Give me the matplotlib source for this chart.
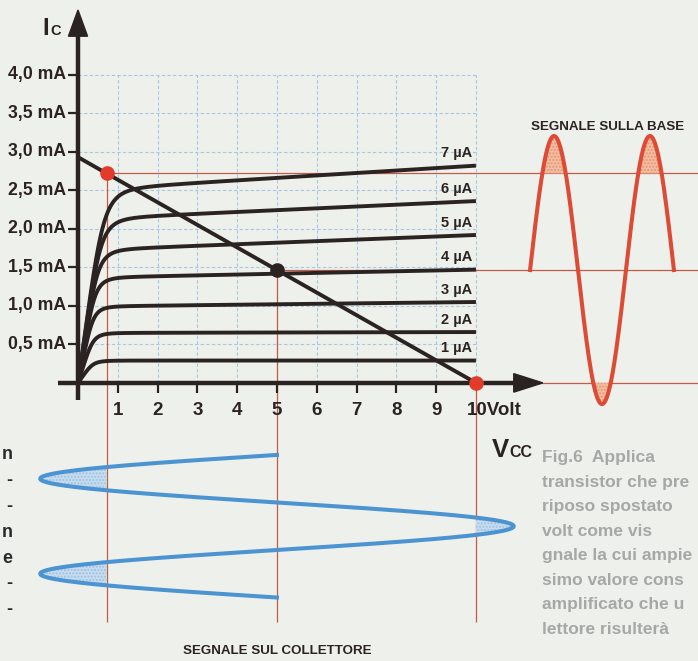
import numpy as np
import matplotlib.pyplot as plt
from matplotlib.patches import Polygon

# ---------------- values ----------------
VOLT_TICKS = [1, 2, 3, 4, 5, 6, 7, 8, 9]
VOLT_GRID = [1, 2, 3, 4, 5, 6, 7, 8, 9, 10]
IC_TICKS = [0.5, 1.0, 1.5, 2.0, 2.5, 3.0, 3.5, 4.0]
IC_TICK_LABELS = ['0,5 mA', '1,0 mA', '1,5 mA', '2,0 mA',
                  '2,5 mA', '3,0 mA', '3,5 mA', '4,0 mA']

# collector characteristics, one curve per base current
IB_LABELS = ['1 µA', '2 µA', '3 µA', '4 µA', '5 µA', '6 µA', '7 µA']
IC_AT_1V5 = [0.29, 0.65, 1.00, 1.38, 1.75, 2.16, 2.55]   # mA just after the knee
IC_AT_10V = [0.29, 0.66, 1.05, 1.47, 1.92, 2.36, 2.82]   # mA at 10 V
KNEE_V = [0.40, 0.40, 0.40, 0.45, 0.52, 0.60, 0.68]

# load line and working points
VCC = 10.0
IC_SHORT = 2.93
Q_V = 5.0
SAT_V = 0.72
Q_I = IC_SHORT * (1 - Q_V / VCC)
SAT_I = IC_SHORT * (1 - SAT_V / VCC)

# base signal (right) and collector signal (below)
BASE_X0, BASE_PERIOD, BASE_AMP, BASE_CYCLES = 11.36, 2.41, 1.74, 1.5
COLL_Y0, COLL_PERIOD, COLL_AMP, COLL_CYCLES = -0.935, 1.234, 5.95, 1.5

# page text around the figure, as much of it as the scan shows
PAGE_LINES = ['Fig.6  Applica',
              'transistor che pre',
              'riposo spostato',
              'volt come vis',
              'gnale la cui ampie',
              'simo valore cons',
              'amplificato che u',
              'lettore risulterà']
LEFT_EDGE = ['n', '-', '-', 'n', 'e', '-', '-']

# ---------------- style ----------------
PAPER = '#eef0ec'
INK = '#2b2322'
GRID = '#a8c8df'
THIN_RED = '#c35a45'
RED_DOT = '#e23b2b'
RED_WAVE = '#dd4a35'
PEACH, PEACH_DOT = '#f3bd9f', '#e39777'
BLUE, BLUE_FILL, BLUE_DOT = '#4b93d1', '#c7ddef', '#9dc1e1'
BOLD = ['Liberation Sans', 'DejaVu Sans']
plt.rcParams['hatch.linewidth'] = 1.0

fig = plt.figure(figsize=(6.98, 6.61), dpi=100, facecolor=PAPER)
ax = fig.add_axes([0, 0, 1, 1])
ax.set_xlim(-1.96, 15.58)
ax.set_ylim(-3.61, 4.97)
ax.axis('off')
XR = ax.get_xlim()[1]

# grid
ax.vlines(VOLT_GRID, 0, IC_TICKS[-1], color=GRID, lw=0.8, linestyles=(0, (3, 2)), zorder=1)
ax.hlines(IC_TICKS, 0, VOLT_GRID[-1], color=GRID, lw=0.8, linestyles=(0, (3, 2)), zorder=1)

# thin red construction lines
ax.hlines([SAT_I, Q_I, 0], [SAT_V, Q_V, VCC], XR, color=THIN_RED, lw=0.9, zorder=2)
ax.vlines([SAT_V, Q_V, VCC], -3.1, [SAT_I, Q_I, 0], color=THIN_RED, lw=0.9, zorder=2)

# characteristic curves
v = np.linspace(0.001, 10, 800)
for lo, hi, vk, lab in zip(IC_AT_1V5, IC_AT_10V, KNEE_V, IB_LABELS):
    plateau = lo + (hi - lo) / 8.5 * (v - 1.5)
    s = v / vk
    ax.plot(v, plateau * s / (1 + s ** 4) ** 0.25, color=INK, lw=2.8,
            solid_capstyle='butt', zorder=4)
    ax.text(9.52, hi + 0.07, lab, ha='center', va='bottom', fontsize=10.5,
            fontweight='bold', family=BOLD, color=INK, zorder=6)

# load line
ax.plot([0, VCC], [IC_SHORT, 0], color=INK, lw=2.8, solid_capstyle='butt', zorder=5)

# axes with arrows
ax.plot([0, 0], [-0.22, 4.55], color=INK, lw=3.2, solid_capstyle='butt', zorder=6)
ax.plot([-0.5, 11.0], [0, 0], color=INK, lw=3.2, solid_capstyle='butt', zorder=6)
ax.add_patch(Polygon([[-0.24, 4.50], [0.24, 4.50], [0, 4.84]], closed=True,
                     color=INK, zorder=6))
ax.add_patch(Polygon([[10.95, 0.12], [10.95, -0.12], [11.68, 0]], closed=True,
                     color=INK, zorder=6))
ax.hlines(IC_TICKS, -0.25, 0, color=INK, lw=1.6, zorder=6)
ax.vlines(VOLT_TICKS, -0.13, 0, color=INK, lw=1.6, zorder=6)

for y, lab in zip(IC_TICKS, IC_TICK_LABELS):
    ax.text(-0.3, y, lab, ha='right', va='center', fontsize=12.7,
            fontweight='bold', family=BOLD, color=INK)
for x in VOLT_TICKS:
    ax.text(x, -0.36, str(x), ha='center', va='center', fontsize=13.5,
            fontweight='bold', family=BOLD, color=INK)
ax.text(9.77, -0.36, '10Volt', ha='left', va='center', fontsize=13.5,
        fontweight='bold', family=BOLD, color=INK, zorder=7)

# axis names
ax.text(-0.90, 4.52, 'I', ha='left', va='baseline', fontsize=17,
        fontweight='bold', family=BOLD, color=INK)
ax.text(-0.70, 4.52, 'C', ha='left', va='baseline', fontsize=10.5,
        fontweight='bold', family=BOLD, color=INK)
ax.text(10.40, -0.96, 'V', ha='left', va='baseline', fontsize=18.5,
        fontweight='bold', family=BOLD, color=INK)
ax.text(10.84, -0.96, 'CC', ha='left', va='baseline', fontsize=11.5,
        fontweight='bold', family=BOLD, color=INK)

# working points
ax.plot(Q_V, Q_I, 'o', ms=9.5, color=INK, zorder=8)
ax.plot([SAT_V, VCC], [SAT_I, 0], 'o', ms=9.5, ls='none', color=RED_DOT, zorder=8)

# base signal, clipped above saturation and below cut-off
xb = np.linspace(BASE_X0, BASE_X0 + BASE_CYCLES * BASE_PERIOD, 500)
yb = Q_I + BASE_AMP * np.sin(2 * np.pi * (xb - BASE_X0) / BASE_PERIOD)
ax.fill_between(xb, yb, SAT_I, where=yb > SAT_I, interpolate=True, facecolor=PEACH,
                edgecolor=PEACH_DOT, hatch='.....', lw=0, zorder=2)
ax.fill_between(xb, yb, 0, where=yb < 0, interpolate=True, facecolor=PEACH,
                edgecolor=PEACH_DOT, hatch='.....', lw=0, zorder=2)
ax.plot(xb, yb, color=RED_WAVE, lw=2.9, zorder=3)
ax.text(13.3, 3.32, 'SEGNALE SULLA BASE', ha='center', va='center', fontsize=9.6,
        fontweight='bold', family=BOLD, color=INK)

# collector signal
t = np.linspace(0, COLL_CYCLES, 500)
yc = COLL_Y0 - t * COLL_PERIOD
xc = Q_V - COLL_AMP * np.sin(2 * np.pi * t)
ax.fill_betweenx(yc, xc, SAT_V, where=xc < SAT_V, interpolate=True, facecolor=BLUE_FILL,
                 edgecolor=BLUE_DOT, hatch='.....', lw=0, zorder=2)
ax.fill_betweenx(yc, xc, VCC, where=xc > VCC, interpolate=True, facecolor=BLUE_FILL,
                 edgecolor=BLUE_DOT, hatch='.....', lw=0, zorder=2)
ax.plot(xc, yc, color=BLUE, lw=2.9, zorder=3)
ax.text(Q_V, -3.48, 'SEGNALE SUL COLLETTORE', ha='center', va='center', fontsize=9.6,
        fontweight='bold', family=BOLD, color=INK)

# text of the page around the figure
for i, line in enumerate(PAGE_LINES):
    ax.text(11.65, -0.974 - 0.318 * i, line, ha='left', va='center', fontsize=12.5,
            fontweight='bold', family=BOLD, color='#a6a8a5', zorder=0)
for i, ch in enumerate(LEFT_EDGE):
    ax.text(-1.64, -0.935 - 0.335 * i, ch, ha='right', va='center', fontsize=13,
            fontweight='bold', family=BOLD, color='#2a2a2a')

plt.savefig('out.png', dpi=100, facecolor=PAPER)
